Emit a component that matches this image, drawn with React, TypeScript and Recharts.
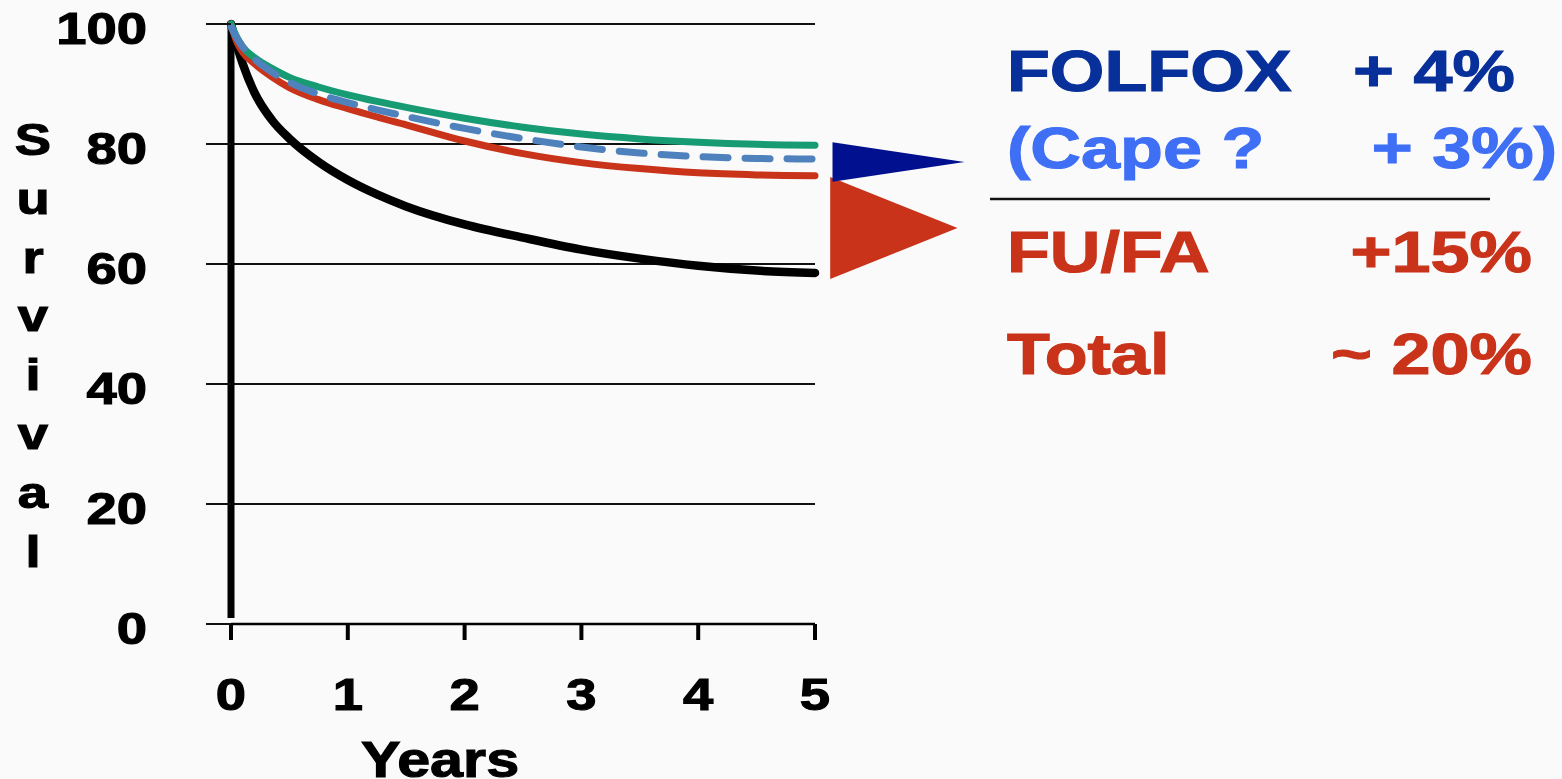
import React from 'react';
import {
  LineChart,
  Line,
  XAxis,
  YAxis,
  CartesianGrid,
  ReferenceLine,
  ReferenceArea,
} from 'recharts';

// follow-up in years
const years = [0, 0.05, 0.1, 0.2, 0.35, 0.5, 0.75, 1, 1.25, 1.5, 2, 2.5, 3, 3.5, 4, 4.5, 5];

// survival (%) per arm
const surgeryAlone = [100, 96.4, 93.4, 88.6, 84.0, 80.9, 77.0, 74.0, 71.6, 69.6, 66.6, 64.4, 62.4, 60.9, 59.7, 58.9, 58.5];
const fuFa = [100, 97, 95.3, 93.4, 91.2, 89.4, 87.4, 85.9, 84.5, 83.2, 80.5, 78.4, 76.9, 75.9, 75.2, 74.85, 74.7];
const capecitabine = [99.5, 97.6, 96.2, 94.2, 92.0, 90.3, 88.3, 86.9, 85.7, 84.6, 82.6, 80.9, 79.5, 78.5, 77.9, 77.6, 77.5];
const folfox = [100, 97.8, 96.2, 94.4, 92.6, 91.1, 89.5, 88.2, 87.1, 86.1, 84.3, 82.8, 81.65, 80.85, 80.3, 79.95, 79.8];

const yTicks = [0, 20, 40, 60, 80, 100];
const xTicks = [0, 1, 2, 3, 4, 5];

// gain arrows to the right of the curves (start year, tip year, low, high)
const gainArrows = [
  { name: 'FU/FA', x1: 5.13, x2: 6.22, low: 57.5, high: 74.5, color: '#c8331a' },
  { name: 'FOLFOX', x1: 5.15, x2: 6.28, low: 73.7, high: 80.3, color: '#00108f' },
];

const axisLetters = ['S', 'u', 'r', 'v', 'i', 'v', 'a', 'l'];

const rows = [
  { left: 'FOLFOX', right: '+ 4%', color: '#08309a', y: 91, rightX: 1515 },
  { left: '(Cape ?', right: '+ 3%)', color: '#3f6ff5', y: 168, rightX: 1557 },
  { left: 'FU/FA', right: '+15%', color: '#c9331a', y: 272, rightX: 1532 },
  { left: 'Total', right: '~ 20%', color: '#c9331a', y: 374, rightX: 1532 },
];

const data = years.map((t, i) => ({
  t,
  surgery: surgeryAlone[i],
  fufa: fuFa[i],
  cape: capecitabine[i],
  folfox: folfox[i],
}));

const FONT = '"Liberation Sans", Arial, sans-serif';

// bold Arial-style text, stretched a little wider
const WideText = ({ x, y, size, color = '#000', anchor = 'start', children }: any) => (
  <text
    transform={`translate(${x} ${y}) scale(1.21 1)`}
    textAnchor={anchor}
    fontSize={size}
    fontWeight="bold"
    fontFamily={FONT}
    fill={color}
    stroke={color}
    strokeWidth={1.1}
  >
    {children}
  </text>
);

const YTick = ({ x, y, payload }: any) => (
  <WideText x={x} y={y + 20} size={45} anchor="end">
    {payload.value}
  </WideText>
);

const XTick = ({ x, y, payload }: any) => (
  <WideText x={x} y={y + 68} size={45} anchor="middle">
    {payload.value}
  </WideText>
);

const arrowShape = (color: string) => (props: any) => {
  const { x, y, width, height } = props;
  const pts = `${x},${y} ${x},${y + height} ${x + width},${y + height / 2}`;
  return <polygon points={pts} fill={color} />;
};

const App = () => {
  return (
    <div
      style={{
        position: 'absolute',
        top: 0,
        left: 0,
        width: 1562,
        height: 779,
        background: '#fafafa',
        overflow: 'hidden',
      }}
    >
      <LineChart
        width={1562}
        height={779}
        data={data}
        margin={{ top: 24, right: 747, bottom: 55, left: 0 }}
      >
        <CartesianGrid vertical={false} stroke="#111" strokeWidth={2} />
        <XAxis
          dataKey="t"
          type="number"
          domain={[0, 5]}
          ticks={xTicks}
          height={100}
          axisLine={{ stroke: '#000', strokeWidth: 2.5 }}
          tickLine={{ stroke: '#000', strokeWidth: 4 }}
          tickSize={16}
          tick={<XTick />}
          interval={0}
        />
        <YAxis
          type="number"
          domain={[0, 100]}
          ticks={yTicks}
          width={231}
          axisLine={false}
          tickLine={{ stroke: '#111', strokeWidth: 2 }}
          tickSize={25}
          tickMargin={59}
          tick={<YTick />}
          interval={0}
        />
        <ReferenceLine
          segment={[
            { x: 0, y: 1 },
            { x: 0, y: 100 },
          ]}
          stroke="#000"
          strokeWidth={7}
          ifOverflow="visible"
        />
        <Line
          type="monotone"
          dataKey="surgery"
          stroke="#000"
          strokeWidth={8.5}
          strokeLinecap="round"
          dot={false}
          isAnimationActive={false}
        />
        <Line
          type="monotone"
          dataKey="fufa"
          stroke="#c9331a"
          strokeWidth={7}
          strokeLinecap="round"
          dot={false}
          isAnimationActive={false}
        />
        <Line
          type="monotone"
          dataKey="folfox"
          stroke="#179b73"
          strokeWidth={7}
          strokeLinecap="round"
          dot={false}
          isAnimationActive={false}
        />
        <Line
          type="monotone"
          dataKey="cape"
          stroke="#4f81bd"
          strokeWidth={7}
          strokeDasharray="25 17"
          strokeLinecap="round"
          dot={false}
          isAnimationActive={false}
        />
        {gainArrows.map((a) => (
          <ReferenceArea
            key={a.name}
            x1={a.x1}
            x2={a.x2}
            y1={a.low}
            y2={a.high}
            ifOverflow="visible"
            shape={arrowShape(a.color)}
          />
        ))}
      </LineChart>

      <svg
        width={1562}
        height={779}
        style={{ position: 'absolute', top: 0, left: 0, pointerEvents: 'none' }}
      >
        {axisLetters.map((ch, i) => (
          <WideText key={i} x={33} y={155 + i * 58.8} size={45} anchor="middle">
            {ch}
          </WideText>
        ))}
        <WideText x={440} y={777} size={49} anchor="middle">
          Years
        </WideText>
        {rows.map((r) => (
          <g key={r.left}>
            <WideText x={1007} y={r.y} size={58} color={r.color}>
              {r.left}
            </WideText>
            <WideText x={r.rightX} y={r.y} size={58} color={r.color} anchor="end">
              {r.right}
            </WideText>
          </g>
        ))}
        <line x1={990} y1={199} x2={1490} y2={199} stroke="#111" strokeWidth={2.5} />
      </svg>
    </div>
  );
};

export default App;
